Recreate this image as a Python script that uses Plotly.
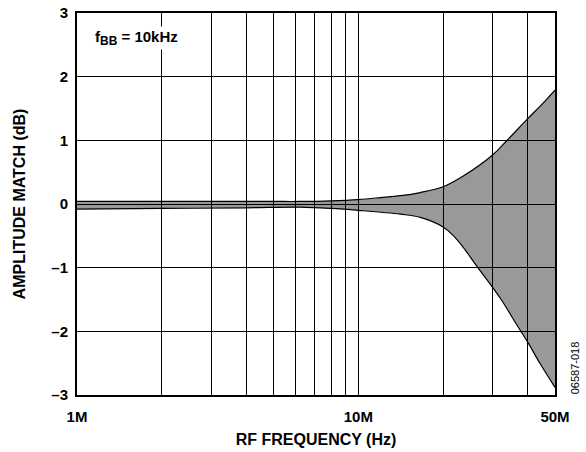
import plotly.graph_objects as go

# Data (frequency in Hz, amplitude match in dB)
upper_freq = [1e6, 2e6, 3e6, 5e6, 6.2e6, 8e6, 10e6, 12e6, 14.1e6, 16.6e6, 20e6,
              23.6e6, 30e6, 33.6e6, 40e6, 45e6, 50e6]
upper_db = [0.04, 0.04, 0.04, 0.04, 0.04, 0.05, 0.07, 0.10, 0.13, 0.18, 0.27,
            0.44, 0.77, 0.99, 1.34, 1.57, 1.79]

lower_freq = [1e6, 2e6, 4e6, 6.2e6, 8e6, 10e6, 14.1e6, 16.6e6, 20e6, 21.8e6,
              23.6e6, 26.4e6, 30e6, 32.4e6, 36e6, 40e6, 44.3e6, 50e6]
lower_db = [-0.08, -0.07, -0.06, -0.05, -0.07, -0.10, -0.16, -0.21, -0.36, -0.50,
            -0.68, -0.98, -1.31, -1.52, -1.85, -2.17, -2.51, -2.88]

x_grid = [1e6, 2e6, 3e6, 4e6, 5e6, 6e6, 7e6, 8e6, 9e6, 10e6, 20e6, 30e6, 40e6, 50e6]
x_labels = ["1M", "", "", "", "", "", "", "", "", "10M", "", "", "", "50M"]
y_ticks = [-3, -2, -1, 0, 1, 2, 3]
y_labels = ["–3", "–2", "–1", "0", "1", "2", "3"]

FONT = "Liberation Sans, Arial, sans-serif"

fig = go.Figure()
fig.add_trace(go.Scatter(x=upper_freq, y=upper_db, mode="lines",
                         line=dict(color="black", width=1.2, shape="spline", smoothing=1.0),
                         showlegend=False, hoverinfo="skip"))
fig.add_trace(go.Scatter(x=lower_freq, y=lower_db, mode="lines",
                         line=dict(color="black", width=1.2, shape="spline", smoothing=1.0),
                         fill="tonexty", fillcolor="rgba(0,0,0,0.4)",
                         showlegend=False, hoverinfo="skip"))

fig.update_layout(
    width=586, height=452,
    margin=dict(l=77, r=31, t=13, b=57, autoexpand=False),
    paper_bgcolor="white", plot_bgcolor="white",
    font=dict(family=FONT, color="black"),
    xaxis=dict(
        type="log", range=[6, 7.69897], automargin=False,
        tickvals=x_grid, ticktext=x_labels,
        showgrid=True, gridcolor="black", gridwidth=1,
        showline=True, linecolor="black", linewidth=2, mirror=True,
        ticks="", zeroline=False, ticklabelstandoff=7,
        ticklabeloverflow="allow",
        tickfont=dict(family=FONT, size=15, weight="bold"),
        title=dict(text="RF FREQUENCY (Hz)", font=dict(family=FONT, size=16, weight="bold"),
                   standoff=10),
    ),
    yaxis=dict(
        range=[-3, 3], automargin=False,
        tickvals=y_ticks, ticktext=y_labels,
        showgrid=True, gridcolor="black", gridwidth=1,
        showline=True, linecolor="black", linewidth=2, mirror=True,
        ticks="", zeroline=False, ticklabelstandoff=4,
        ticklabeloverflow="allow",
        tickfont=dict(family=FONT, size=15, weight="bold"),
        title=dict(text="AMPLITUDE MATCH (dB)", font=dict(family=FONT, size=16, weight="bold"),
                   standoff=22),
    ),
    annotations=[
        dict(text="f<sub><span style='font-size:12px'>BB</span></sub> = 10kHz",
             xref="paper", yref="paper",
             x=0.0, xshift=16, y=0.935, xanchor="left", yanchor="middle", showarrow=False,
             bgcolor="white", font=dict(family=FONT, size=15, weight="bold")),
        dict(text="06587-018", xref="paper", yref="paper",
             x=1.0, xshift=20, y=0.07, xanchor="center", yanchor="middle",
             textangle=-90, showarrow=False,
             font=dict(family=FONT, size=11, color="black")),
    ],
)

# remove the default page margin so the figure sits at the window's top-left corner
fig.write_html("out.html", config={"displayModeBar": False},
               post_script="document.body.style.margin='0';")
